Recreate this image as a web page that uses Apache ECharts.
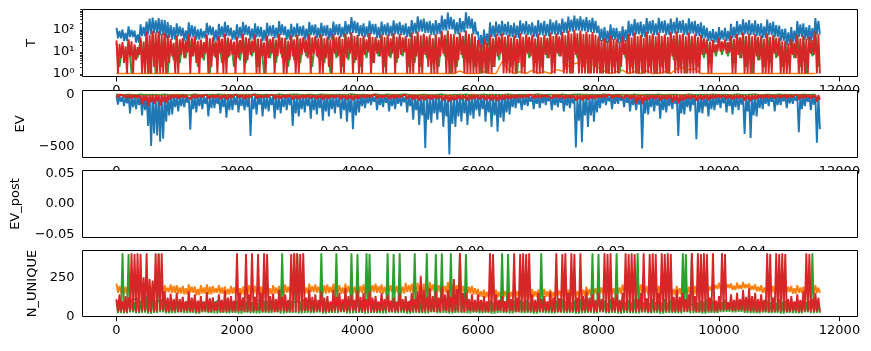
<!DOCTYPE html>
<html>
<head>
<meta charset="utf-8">
<script src="https://cdn.jsdelivr.net/npm/echarts@6/dist/echarts.min.js"></script>
<style>
  html, body { margin: 0; padding: 0; background: #fff; }
  #chart { width: 871px; height: 351px; }
</style>
</head>
<body>
<div id="chart"></div>
<script>
// fine arrays hold one value per 50 samples, coarse ones per 100
const fineStep = 50;
const coarseStep = 100;

const xTicks = [0, 2000, 4000, 6000, 8000, 10000, 12000];
const tTicks = [1, 10, 100];
const tMinorTicks = [0.8, 0.9, 2, 3, 4, 5, 6, 7, 8, 9, 20, 30, 40, 50, 60, 70, 80, 90, 200, 300, 400, 500, 600, 700, 800];
const evTicks = [-500, 0];
const postXTicks = [-0.04, -0.02, 0, 0.02, 0.04];
const postYTicks = [-0.05, 0, 0.05];
const nTicks = [0, 250];

// ---- T ----
const tBlueHi = [
  120, 85, 100, 70, 140, 95, 90, 60, 170, 130, 230, 310, 350, 260, 330, 280, 270, 220, 160, 130,
  190, 140, 120, 90, 210, 160, 140, 100, 110, 85, 200, 150, 130, 95, 180, 140, 220, 160, 120, 90,
  170, 130, 220, 160, 140, 110, 190, 140, 130, 95, 200, 150, 160, 120, 240, 170, 140, 100, 180, 130,
  190, 140, 150, 110, 220, 160, 170, 120, 200, 150, 160, 115, 230, 170, 180, 130, 240, 170, 370, 250,
  210, 160, 190, 140, 250, 180, 180, 130, 230, 170, 200, 150, 260, 190, 220, 160, 190, 140, 270, 200,
  400, 280, 310, 230, 250, 190, 270, 200, 430, 300, 580, 380, 290, 210, 330, 240, 610, 400, 310, 220,
  80, 55, 100, 65, 210, 150, 230, 170, 250, 180, 220, 160, 200, 150, 260, 190, 240, 170, 210, 150,
  270, 200, 250, 180, 290, 210, 260, 190, 310, 220, 390, 280, 430, 310, 400, 290, 370, 270, 340, 250,
  150, 110, 130, 90, 170, 120, 120, 85, 140, 100, 250, 180, 300, 210, 230, 170, 330, 240, 270, 190,
  340, 240, 260, 190, 310, 220, 350, 250, 270, 190, 320, 230, 250, 180, 210, 150, 120, 85, 105, 80,
  130, 90, 120, 85, 180, 130, 240, 170, 290, 210, 270, 190, 260, 180, 190, 140, 280, 200, 230, 160,
  150, 105, 110, 75, 130, 90, 240, 170, 190, 130, 160, 115, 330, 250];
const tBlueLo = [
  40, 30, 45, 25, 50, 60, 70, 55, 40, 35,
  50, 30, 45, 35, 40, 55, 30, 45, 50, 35,
  40, 55, 35, 45, 30, 50, 40, 55, 35, 45,
  50, 35, 55, 40, 50, 35, 55, 45, 60, 70,
  50, 45, 60, 40, 55, 50, 60, 55, 45, 65,
  80, 70, 55, 60, 90, 100, 60, 75, 110, 60,
  15, 20, 45, 50, 55, 45, 40, 60, 55, 45,
  55, 50, 60, 55, 70, 80, 90, 85, 75, 70,
  30, 25, 35, 25, 30, 50, 60, 45, 65, 55,
  70, 55, 65, 70, 55, 65, 50, 40, 30, 25,
  35, 30, 40, 55, 60, 55, 50, 40, 55, 45,
  30, 20, 25, 45, 35, 30, 60];
const tOrange = [
  1, 1, 1, 1, 1, 1, 1, 1, 1, 1,
  1, 1, 1, 1, 1, 1, 1, 1, 1, 1,
  1, 1, 1, 1, 1, 1, 1, 1, 1, 1,
  1, 1, 1, 1, 1, 1, 1, 1, 1, 1,
  1, 1, 1, 1, 1, 1, 1, 1, 1, 1,
  1, 1, 1, 1, 1, 1, 1, 1.3, 1, 1,
  1, 1.2, 1, 1, 3.5, 1.5, 1, 1.2, 1, 1.4,
  1, 1.2, 1, 1.5, 1.3, 2.2, 2.8, 3.2, 3.4, 2.6,
  1.8, 1.3, 1, 1.2, 1.4, 1, 1.2, 1, 1.3, 1,
  1, 1.2, 1, 1.7, 1.8, 1.5, 1.6, 1, 1, 1,
  1, 1, 1, 1, 1, 1, 1, 1, 1, 1,
  1, 1, 1, 1, 1, 1, 1];
const tGreenHi = [
  25, 20, 30, 18, 35, 60, 70, 65, 55, 30,
  40, 35, 50, 38, 30, 45, 35, 40, 50, 30,
  38, 50, 35, 45, 30, 40, 38, 50, 35, 42,
  45, 38, 50, 42, 45, 38, 50, 42, 55, 58,
  45, 42, 55, 38, 50, 45, 55, 50, 42, 58,
  62, 55, 45, 50, 65, 70, 50, 58, 70, 55,
  25, 30, 45, 50, 55, 45, 42, 55, 50, 45,
  50, 45, 58, 55, 62, 70, 75, 70, 65, 62,
  38, 35, 42, 30, 38, 50, 58, 45, 62, 55,
  58, 50, 62, 65, 55, 58, 50, 45, 30, 25,
  35, 30, 42, 50, 58, 55, 50, 42, 55, 45,
  35, 25, 30, 45, 42, 38, 65];
const tGreenLo = [
  2, 4, 1, 5, 3, 1, 1, 2, 1, 4,
  3, 5, 6, 2, 4, 1, 5, 3, 5, 2,
  4, 3, 6, 2, 1, 5, 3, 5, 2, 4,
  3, 6, 2, 5, 3, 1, 5, 2, 4, 3,
  2, 5, 3, 6, 2, 5, 3, 6, 2, 3,
  2, 5, 3, 2, 6, 1, 2, 5, 3, 2,
  1, 1, 2, 4, 3, 2, 1, 2, 5, 3,
  2, 5, 3, 6, 2, 1, 5, 2, 1, 2,
  1, 1, 2, 1, 5, 2, 1, 1, 2, 1,
  2, 1, 4, 2, 1, 3, 2, 5, 3, 6,
  7, 6, 3, 5, 2, 1, 4, 2, 3, 5,
  2, 3, 5, 2, 1, 6, 2];
const tRedHi = [
  32, 22, 27, 17, 36, 29, 21, 16, 44, 28, 80, 58, 86, 72, 84, 62, 70, 57, 37, 25,
  54, 36, 41, 31, 63, 43, 49, 31, 35, 27, 58, 40, 44, 29, 50, 39, 64, 43, 36, 28,
  48, 33, 63, 44, 40, 31, 59, 39, 38, 26, 53, 37, 45, 35, 64, 43, 41, 31, 54, 36,
  58, 40, 45, 35, 64, 44, 50, 39, 59, 40, 46, 35, 63, 44, 51, 37, 68, 47, 74, 50,
  56, 42, 53, 36, 69, 47, 45, 35, 61, 46, 59, 40, 68, 47, 63, 44, 50, 39, 73, 51,
  80, 55, 66, 49, 58, 40, 63, 44, 84, 58, 90, 62, 61, 46, 73, 51, 89, 63, 66, 49,
  33, 21, 38, 25, 58, 40, 61, 46, 68, 47, 56, 42, 53, 37, 69, 47, 61, 46, 58, 40,
  63, 44, 56, 42, 73, 51, 66, 49, 79, 55, 87, 65, 94, 67, 89, 63, 81, 61, 77, 57,
  48, 33, 41, 31, 53, 37, 36, 28, 48, 33, 63, 44, 73, 51, 56, 42, 79, 55, 66, 49,
  73, 51, 61, 46, 79, 55, 83, 59, 66, 49, 73, 51, 61, 46, 58, 40, 36, 28, 33, 21,
  43, 29, 36, 27, 53, 37, 63, 44, 73, 51, 66, 49, 61, 46, 53, 37, 68, 47, 56, 42,
  43, 29, 31, 23, 38, 25, 58, 40, 53, 37, 48, 33, 84, 62];
const tRedLo = [
  1, 5, 3, 1, 6, 1, 4, 7, 1, 1, 1, 1, 2, 1, 1, 1, 1, 3, 6, 1,
  1, 7, 5, 9, 1, 6, 3, 1, 5, 8, 1, 2, 6, 1, 8, 1, 1, 6, 7, 1,
  5, 8, 1, 4, 7, 9, 1, 1, 6, 1, 5, 8, 1, 6, 8, 1, 1, 4, 6, 1,
  1, 7, 9, 5, 1, 8, 6, 1, 1, 5, 2, 1, 8, 6, 1, 1, 5, 8, 1, 4,
  1, 1, 7, 9, 1, 3, 8, 6, 1, 1, 6, 8, 1, 5, 7, 9, 1, 1, 1, 6,
  1, 1, 7, 2, 1, 1, 1, 6, 8, 1, 1, 1, 1, 4, 7, 1, 1, 1, 1, 1,
  1, 1, 1, 1, 1, 2, 6, 8, 1, 1, 1, 1, 1, 3, 1, 1, 8, 6, 1, 1,
  1, 1, 7, 5, 1, 1, 8, 6, 1, 1, 1, 1, 7, 1, 1, 1, 1, 1, 1, 1,
  1, 1, 1, 1, 1, 1, 1, 2, 7, 1, 1, 1, 1, 1, 1, 1, 1, 1, 1, 1,
  1, 1, 1, 1, 6, 1, 1, 1, 1, 1, 1, 1, 1, 1, 7, 8, 1, 1, 9, 10,
  10, 11, 8, 9, 1, 1, 7, 5, 1, 1, 1, 1, 6, 4, 1, 1, 1, 1, 8, 6,
  1, 1, 1, 1, 7, 5, 1, 1, 1, 1, 8, 7, 1, 1];

// ---- EV ----
const evBlueHi = [
  -15, -20, -10, -25, -12, -20, -30, -15, -25, -10,
  -18, -12, -22, -10, -15, -20, -12, -18, -25, -10,
  -15, -22, -12, -18, -10, -20, -15, -25, -12, -18,
  -20, -12, -18, -15, -22, -10, -18, -25, -15, -20,
  -12, -15, -10, -18, -12, -20, -15, -10, -18, -25,
  -30, -25, -20, -18, -28, -35, -22, -20, -30, -18,
  -20, -25, -30, -22, -18, -15, -12, -18, -10, -15,
  -12, -10, -15, -12, -18, -15, -30, -25, -20, -18,
  -12, -10, -15, -8, -12, -18, -15, -25, -20, -15,
  -22, -18, -15, -20, -18, -15, -22, -18, -20, -15,
  -12, -18, -20, -15, -25, -28, -18, -12, -10, -15,
  -10, -12, -8, -15, -10, -12, -20];
const evBlueLo = [
  -95, -70, -110, -85, -180, -120, -140, -100, -200, -150, -300, -490, -370, -390, -450, -420, -260, -200, -190, -120,
  -160, -110, -120, -80, -335, -140, -170, -110, -140, -90, -210, -130, -130, -90, -180, -120, -220, -150, -150, -100,
  -170, -110, -150, -120, -395, -140, -190, -95, -210, -140, -160, -100, -230, -150, -180, -120, -150, -100, -300, -180,
  -210, -140, -170, -110, -230, -150, -190, -130, -250, -160, -210, -140, -180, -120, -230, -150, -260, -170, -330, -200,
  -170, -110, -130, -85, -100, -70, -150, -100, -120, -80, -160, -110, -140, -90, -110, -75, -170, -110, -240, -150,
  -290, -200, -510, -240, -270, -180, -240, -170, -310, -210, -570, -280, -310, -210, -260, -180, -290, -200, -230, -150,
  -210, -140, -260, -170, -310, -200, -355, -220, -260, -170, -190, -120, -130, -85, -150, -100, -110, -70, -140, -90,
  -130, -85, -100, -65, -150, -100, -120, -80, -160, -105, -130, -85, -505, -250, -455, -200, -310, -200, -260, -170,
  -130, -85, -100, -65, -140, -90, -90, -60, -120, -80, -160, -100, -150, -95, -515, -180, -190, -120, -160, -105,
  -230, -150, -170, -110, -140, -90, -395, -180, -190, -120, -160, -100, -425, -170, -180, -115, -210, -140, -150, -100,
  -130, -85, -170, -110, -190, -120, -150, -95, -375, -160, -415, -200, -210, -130, -140, -90, -110, -70, -160, -100,
  -100, -65, -130, -85, -90, -60, -360, -140, -110, -70, -150, -95, -460, -330];
const evOrange = [
  -1, -2, -1, -1.5, -2, -1, -2.5, -1, -1.5, -2,
  -1, -1.5, -2, -1, -2, -1.5, -1, -2, -1, -1.5,
  -2, -1, -1.5, -2, -1, -2, -1.5, -1, -2, -1,
  -1.5, -2, -1, -1.5, -2, -1, -2, -1.5, -1, -2,
  -1, -1.5, -2, -1, -2, -1.5, -1, -2, -1, -1.5,
  -2, -1, -1.5, -2, -1, -2, -1.5, -1, -2, -1,
  -1.5, -2, -1, -1.5, -2, -1, -2, -1.5, -1, -2,
  -1, -1.5, -2, -1, -2, -1.5, -1, -2, -1, -1.5,
  -2, -1, -1.5, -2, -1, -2, -1.5, -1, -2, -1,
  -1.5, -2, -1, -1.5, -2, -1, -2, -1.5, -1, -2,
  -1, -1.5, -2, -1, -2, -1.5, -1, -2, -1, -1.5,
  -2, -1, -1.5, -2, -1, -2, -1.5];
const evGreen = [
  2, -6, 1, -8, 3, -5, 0, -7, 2, -4,
  -9, 1, -6, 3, -8, 0, -5, 2, -7, -3,
  1, -8, -2, 3, -6, 0, -9, 2, -5, -1,
  3, -7, 0, -5, 2, -8, -3, 1, -6, 4,
  -5, 0, -8, 2, -4, 3, -7, -1, 2, -6,
  -10, 1, -8, -3, 2, -12, 0, -6, 3, -9,
  -4, 2, -7, 0, -5, 3, -8, 1, -4, -2,
  2, -6, 0, -9, 3, -5, -1, 2, -7, 0,
  -5, 3, -8, 1, -3, -6, 2, -10, 0, -4,
  3, -7, -2, 1, -9, 2, -5, 0, -6, 3,
  -4, 1, -8, 2, -5, -1, 3, -7, 0, -4,
  2, -6, 1, -8, 0, -3, 2];
const evRedHi = [
  -3, -5, -2, -4, -6, -5, -3, -6, -4, -2,
  -4, -3, -5, -2, -4, -6, -3, -5, -2, -4,
  -3, -5, -4, -2, -6, -3, -4, -5, -2, -4,
  -5, -3, -4, -6, -2, -5, -3, -4, -6, -3,
  -4, -2, -5, -3, -4, -6, -2, -4, -5, -3,
  -6, -4, -5, -3, -6, -7, -4, -5, -6, -4,
  -5, -6, -4, -5, -3, -4, -2, -5, -3, -4,
  -3, -2, -4, -3, -5, -4, -6, -5, -4, -3,
  -2, -3, -4, -2, -3, -5, -4, -6, -3, -4,
  -5, -4, -3, -5, -4, -3, -5, -4, -3, -2,
  -3, -4, -5, -3, -6, -5, -4, -3, -2, -4,
  -3, -2, -4, -3, -2, -4, -5];
const evRedLo = [
  -30, -22, -26, -35, -40, -28, -36, -30, -95, -60, -110, -75, -90, -65, -105, -70, -80, -50, -36, -28,
  -40, -30, -30, -24, -45, -35, -35, -27, -30, -22, -40, -30, -35, -26, -45, -33, -50, -38, -30, -22,
  -35, -27, -45, -33, -30, -22, -40, -30, -35, -26, -30, -22, -45, -34, -40, -30, -35, -26, -50, -38,
  -45, -33, -35, -26, -40, -30, -45, -34, -50, -38, -40, -30, -35, -26, -45, -34, -50, -38, -55, -40,
  -40, -30, -35, -26, -30, -22, -40, -30, -35, -26, -45, -33, -40, -30, -30, -22, -45, -34, -50, -38,
  -60, -45, -55, -40, -50, -38, -45, -33, -60, -45, -70, -52, -55, -40, -50, -38, -60, -45, -45, -33,
  -50, -38, -55, -40, -60, -45, -65, -48, -55, -40, -45, -33, -40, -30, -35, -26, -30, -22, -40, -30,
  -35, -26, -30, -22, -40, -30, -35, -26, -45, -33, -40, -30, -60, -45, -55, -40, -50, -38, -45, -33,
  -35, -26, -30, -22, -40, -30, -30, -22, -35, -26, -45, -33, -90, -55, -95, -60, -50, -38, -45, -33,
  -60, -45, -50, -38, -80, -55, -85, -60, -55, -40, -45, -33, -60, -45, -50, -38, -55, -40, -40, -30,
  -35, -26, -45, -33, -50, -38, -40, -30, -60, -45, -65, -48, -45, -33, -40, -30, -35, -26, -40, -30,
  -35, -26, -40, -30, -30, -22, -50, -38, -35, -26, -40, -30, -70, -50];

// ---- N_UNIQUE ----
const nBlue = [
  70, 95, 60, 110, 80, 130, 75, 100, 65, 90,
  85, 60, 100, 70, 95, 65, 80, 105, 60, 90,
  75, 100, 65, 85, 110, 70, 95, 60, 90, 80,
  100, 65, 85, 75, 105, 60, 95, 80, 70, 100,
  65, 90, 75, 100, 60, 85, 95, 70, 80, 105,
  90, 70, 100, 65, 95, 80, 110, 75, 85, 60,
  80, 65, 95, 70, 85, 60, 90, 75, 100, 65,
  85, 70, 95, 60, 80, 100, 70, 90, 65, 85,
  75, 95, 60, 85, 70, 100, 65, 90, 80, 70,
  95, 65, 85, 75, 100, 60, 90, 70, 85, 65,
  75, 60, 85, 70, 95, 80, 65, 90, 70, 85,
  60, 80, 70, 95, 65, 85, 75];
const nOrangeHi = [
  210, 195, 205, 190, 215, 200, 200, 185, 210, 195, 205, 190, 215, 200, 210, 195, 200, 185, 205, 195,
  200, 185, 195, 180, 205, 190, 190, 175, 200, 185, 205, 190, 195, 180, 200, 185, 190, 175, 195, 185,
  195, 180, 190, 175, 200, 185, 195, 180, 190, 175, 195, 180, 200, 185, 195, 180, 205, 190, 210, 195,
  205, 190, 200, 185, 210, 195, 205, 190, 215, 200, 205, 190, 210, 195, 200, 185, 210, 195, 205, 190,
  210, 195, 205, 190, 215, 200, 210, 195, 205, 190, 215, 200, 210, 195, 205, 190, 215, 200, 210, 195,
  215, 200, 210, 195, 220, 205, 215, 200, 210, 195, 220, 205, 215, 200, 210, 195, 205, 190, 195, 180,
  175, 160, 170, 155, 180, 165, 170, 155, 175, 160, 170, 155, 175, 160, 170, 155, 165, 150, 175, 160,
  170, 155, 175, 160, 170, 155, 180, 165, 175, 160, 170, 155, 175, 160, 185, 170, 190, 175, 195, 180,
  200, 185, 205, 190, 195, 180, 200, 185, 205, 190, 195, 180, 200, 185, 205, 190, 195, 180, 200, 185,
  195, 180, 200, 185, 190, 175, 195, 180, 200, 185, 190, 175, 195, 180, 200, 185, 205, 190, 215, 200,
  215, 200, 220, 205, 210, 195, 215, 200, 220, 205, 210, 195, 205, 190, 200, 185, 205, 190, 195, 180,
  200, 185, 205, 190, 195, 180, 200, 185, 190, 175, 195, 180, 200, 185];
const nOrangeLo = [
  150, 140, 160, 145, 155, 140, 150, 145, 155, 150,
  145, 140, 150, 135, 145, 140, 150, 145, 140, 145,
  140, 135, 145, 140, 135, 140, 145, 140, 150, 155,
  150, 145, 155, 150, 145, 150, 155, 145, 150, 145,
  150, 145, 155, 150, 145, 155, 150, 145, 155, 150,
  155, 150, 160, 155, 150, 160, 155, 150, 145, 140,
  125, 120, 130, 120, 125, 120, 125, 120, 115, 125,
  120, 125, 120, 130, 125, 120, 125, 130, 135, 140,
  145, 150, 140, 145, 150, 140, 145, 150, 140, 145,
  140, 145, 135, 140, 145, 135, 140, 150, 165, 175,
  175, 180, 170, 175, 180, 170, 160, 150, 155, 145,
  150, 155, 145, 150, 140, 145, 150];
const nGreenHi = [
  100, 85, 405, 95, 400, 110, 90, 120, 100, 130, 115, 95, 120, 100, 405, 110, 95, 85, 100, 90,
  110, 90, 120, 95, 100, 85, 115, 95, 110, 90, 100, 85, 120, 95, 110, 90, 100, 85, 120, 95,
  100, 90, 120, 95, 110, 90, 100, 85, 115, 95, 100, 90, 110, 95, 100, 405, 105, 90, 100, 405,
  400, 95, 110, 90, 120, 95, 110, 90, 405, 95, 105, 85, 110, 405, 100, 90, 115, 95, 405, 100,
  400, 95, 110, 405, 400, 95, 105, 90, 110, 95, 405, 90, 400, 95, 405, 90, 110, 95, 100, 405,
  115, 95, 110, 405, 100, 90, 400, 95, 405, 100, 110, 405, 100, 95, 405, 110, 400, 95, 105, 90,
  100, 85, 110, 90, 100, 85, 110, 90, 405, 95, 400, 90, 100, 85, 105, 90, 95, 85, 100, 90,
  110, 405, 100, 85, 110, 90, 100, 85, 110, 90, 105, 85, 100, 90, 110, 85, 100, 90, 405, 95,
  400, 95, 100, 85, 110, 90, 405, 95, 110, 90, 100, 85, 110, 405, 100, 90, 105, 85, 110, 90,
  100, 85, 110, 90, 105, 90, 100, 85, 405, 400, 110, 405, 95, 85, 100, 90, 110, 95, 100, 90,
  100, 90, 105, 85, 110, 90, 100, 85, 110, 90, 105, 85, 100, 90, 110, 85, 100, 90, 105, 85,
  110, 90, 100, 85, 110, 90, 100, 85, 105, 90, 100, 405, 100, 90];
const nGreenLo = [
  20, 18, 24, 19, 22, 17, 21, 25, 18, 20,
  23, 19, 21, 17, 24, 20, 18, 22, 19, 21,
  17, 23, 20, 18, 22, 19, 24, 17, 21, 20,
  18, 22, 19, 23, 17, 21, 20, 24, 18, 19,
  22, 17, 21, 20, 18, 23, 19, 22, 17, 21,
  20, 18, 24, 19, 21, 17, 22, 20, 18, 23,
  19, 21, 17, 22, 20, 18, 24, 19, 21, 17,
  22, 20, 18, 23, 19, 21, 17, 20, 22, 18,
  24, 19, 21, 17, 22, 20, 18, 23, 19, 21,
  17, 22, 20, 18, 24, 19, 21, 17, 22, 20,
  26, 28, 24, 27, 22, 20, 18, 23, 19, 21,
  17, 22, 20, 18, 24, 19, 21];
const nRedHi = [
  110, 140, 95, 130, 120, 405, 400, 405, 400, 250, 405, 240, 230, 405, 400, 405, 160, 120, 145, 110,
  150, 110, 125, 95, 160, 120, 140, 100, 130, 95, 155, 115, 120, 90, 140, 105, 165, 120, 130, 100,
  405, 150, 120, 400, 140, 405, 125, 400, 150, 405, 400, 130, 145, 110, 170, 125, 140, 105, 400, 405,
  405, 400, 405, 120, 170, 125, 140, 105, 160, 120, 130, 95, 170, 125, 150, 110, 180, 130, 140, 105,
  170, 125, 150, 110, 160, 120, 130, 95, 150, 110, 140, 100, 120, 90, 150, 110, 130, 95, 150, 110,
  160, 260, 170, 125, 180, 130, 160, 120, 190, 140, 170, 125, 240, 175, 405, 150, 150, 110, 140, 105,
  140, 105, 130, 95, 405, 400, 140, 105, 130, 95, 150, 110, 405, 120, 400, 405, 400, 405, 140, 105,
  150, 110, 130, 95, 160, 120, 405, 115, 400, 405, 150, 405, 400, 120, 405, 130, 160, 120, 140, 105,
  150, 110, 405, 400, 405, 120, 140, 105, 150, 405, 400, 405, 400, 110, 150, 405, 115, 400, 405, 400,
  150, 405, 400, 405, 400, 125, 170, 125, 150, 110, 140, 405, 130, 405, 400, 405, 400, 120, 405, 100,
  130, 405, 400, 90, 140, 105, 150, 110, 170, 125, 180, 130, 150, 110, 140, 105, 405, 400, 120, 405,
  400, 405, 400, 110, 130, 95, 140, 105, 160, 405, 400, 110, 150, 120];
const nRedLo = [
  30, 25, 35, 28, 32, 26, 30, 35, 28, 32,
  27, 33, 29, 25, 31, 28, 34, 26, 30, 29,
  32, 27, 30, 35, 28, 31, 26, 33, 29, 27,
  30, 34, 28, 31, 26, 29, 33, 27, 30, 32,
  28, 31, 26, 30, 34, 27, 29, 32, 28, 30,
  26, 31, 29, 27, 33, 28, 30, 26, 32, 29,
  31, 27, 30, 34, 28, 32, 26, 29, 31, 27,
  30, 33, 28, 26, 31, 29, 27, 32, 30, 28,
  29, 26, 31, 28, 33, 27, 30, 29, 26, 32,
  28, 31, 27, 30, 29, 33, 26, 28, 31, 30,
  36, 40, 34, 38, 32, 30, 28, 31, 27, 29,
  30, 28, 32, 26, 31, 29, 30];

// ---------------------------------------------------------------
const C = { blue: '#1f77b4', orange: '#ff7f0e', green: '#2ca02c', red: '#d62728' };
const FONT = 'DejaVu Sans';
const plotLeft = 82.5, plotWidth = 775;
const panelTop = [9.5, 90.5, 170.5, 250.5];
const panelH = [67, 67, 67, 66];

// hi at the start of each fine bin, lo half a bin later; a coarse array
// simply covers two fine bins
function zigzag(hi, lo, step) {
  const out = [];
  const n = Math.max(hi.length, lo.length);
  for (let i = 0; i < n; i++) {
    out.push([i * step, hi[Math.floor(i * hi.length / n)]]);
    out.push([i * step + step / 2, lo[Math.floor(i * lo.length / n)]]);
  }
  return out;
}
function plain(vals, step) {
  return vals.map((v, i) => [i * step, v]);
}
const minus = s => String(s).replace('-', '\u2212');
const sup = { 0: '\u2070', 1: '\u00b9', 2: '\u00b2' };
const yIndexOf = gi => (gi === 0 ? 0 : gi + 1);

function xAxis(gi, min, max, ticks, fmt) {
  return {
    type: 'value', gridIndex: gi, min: min, max: max,
    axisLine: { show: false },
    splitLine: { show: false },
    axisTick: { customValues: ticks, length: 5, lineStyle: { color: '#000', width: 1 } },
    axisLabel: { customValues: ticks, color: '#000', fontSize: 13, fontFamily: FONT, margin: 8, formatter: fmt }
  };
}
function yAxis(gi, opts) {
  return Object.assign({
    type: 'value', gridIndex: gi,
    nameLocation: 'middle', nameRotate: 90,
    nameTextStyle: { color: '#000', fontSize: 13, fontFamily: FONT },
    axisLine: { show: false },
    splitLine: { show: false },
    axisTick: { customValues: opts.ticks, length: 5, lineStyle: { color: '#000', width: 1 } },
    axisLabel: { customValues: opts.ticks, color: '#000', fontSize: 13, fontFamily: FONT, margin: 8, formatter: opts.fmt }
  }, opts.extra);
}
// white framed plot box drawn as a series, above the axes: each box hides
// the tick labels of the panel above it, as in the original figure
function box(gi) {
  return {
    type: 'custom', xAxisIndex: gi, yAxisIndex: yIndexOf(gi),
    data: [[0, 1]], silent: true, animation: false, clip: false, z: 5,
    renderItem: params => ({
      type: 'rect',
      shape: { x: params.coordSys.x, y: params.coordSys.y,
               width: params.coordSys.width, height: params.coordSys.height },
      style: { fill: '#fff', stroke: '#000', lineWidth: 1 }
    })
  };
}
function line(gi, color, data, width) {
  return {
    type: 'line', xAxisIndex: gi, yAxisIndex: yIndexOf(gi),
    data: data, showSymbol: false, animation: false, silent: true,
    lineStyle: { color: color, width: width || 1.9 }, itemStyle: { color: color }, z: 10
  };
}

const chart = echarts.init(document.getElementById('chart'), null, { renderer: 'canvas' });
const fmtX = v => String(v);

chart.setOption({
  backgroundColor: '#fff',
  animation: false,
  grid: panelTop.map((t, i) => ({ left: plotLeft, top: t, width: plotWidth, height: panelH[i], show: false })),
  xAxis: [
    xAxis(0, -564, 12299, xTicks, fmtX),
    xAxis(1, -564, 12299, xTicks, fmtX),
    xAxis(2, -0.055, 0.055, postXTicks, v => minus(v.toFixed(2))),
    xAxis(3, -564, 12299, xTicks, fmtX)
  ],
  yAxis: [
    yAxis(0, { ticks: tTicks, fmt: v => '10' + sup[Math.round(Math.log10(v))],
      extra: { type: 'log', logBase: 10, min: 0.731, max: 811, name: 'T', nameGap: 44 } }),
    yAxis(0, { ticks: tMinorTicks, fmt: () => '',
      extra: { type: 'log', logBase: 10, min: 0.731, max: 811, position: 'left',
        axisTick: { customValues: tMinorTicks, length: 2.5, lineStyle: { color: '#000', width: 0.8 } },
        axisLabel: { show: false } } }),
    yAxis(1, { ticks: evTicks, fmt: v => minus(v),
      extra: { min: -600, max: 38, name: 'EV', nameGap: 55 } }),
    yAxis(2, { ticks: postYTicks, fmt: v => minus(v.toFixed(2)),
      extra: { min: -0.055, max: 0.055, name: 'EV_post', nameGap: 60 } }),
    yAxis(3, { ticks: nTicks, fmt: v => String(v),
      extra: { min: -2, max: 423, name: 'N_UNIQUE', nameGap: 38 } })
  ],
  series: [
    box(0), box(1), box(2), box(3),
    line(0, C.blue, zigzag(tBlueHi, tBlueLo, fineStep)),
    line(0, C.orange, plain(tOrange, coarseStep), 1.5),
    line(0, C.green, zigzag(tGreenHi, tGreenLo, coarseStep)),
    line(0, C.red, zigzag(tRedHi, tRedLo, fineStep)),
    line(1, C.blue, zigzag(evBlueHi, evBlueLo, fineStep)),
    line(1, C.orange, plain(evOrange, coarseStep), 1.5),
    line(1, C.green, plain(evGreen, coarseStep), 1.5),
    line(1, C.red, zigzag(evRedHi, evRedLo, fineStep)),
    line(3, C.blue, plain(nBlue, coarseStep), 1.5),
    line(3, C.orange, zigzag(nOrangeHi, nOrangeLo, fineStep)),
    line(3, C.green, zigzag(nGreenHi, nGreenLo, fineStep)),
    line(3, C.red, zigzag(nRedHi, nRedLo, fineStep))
  ]
});
</script>
</body>
</html>
